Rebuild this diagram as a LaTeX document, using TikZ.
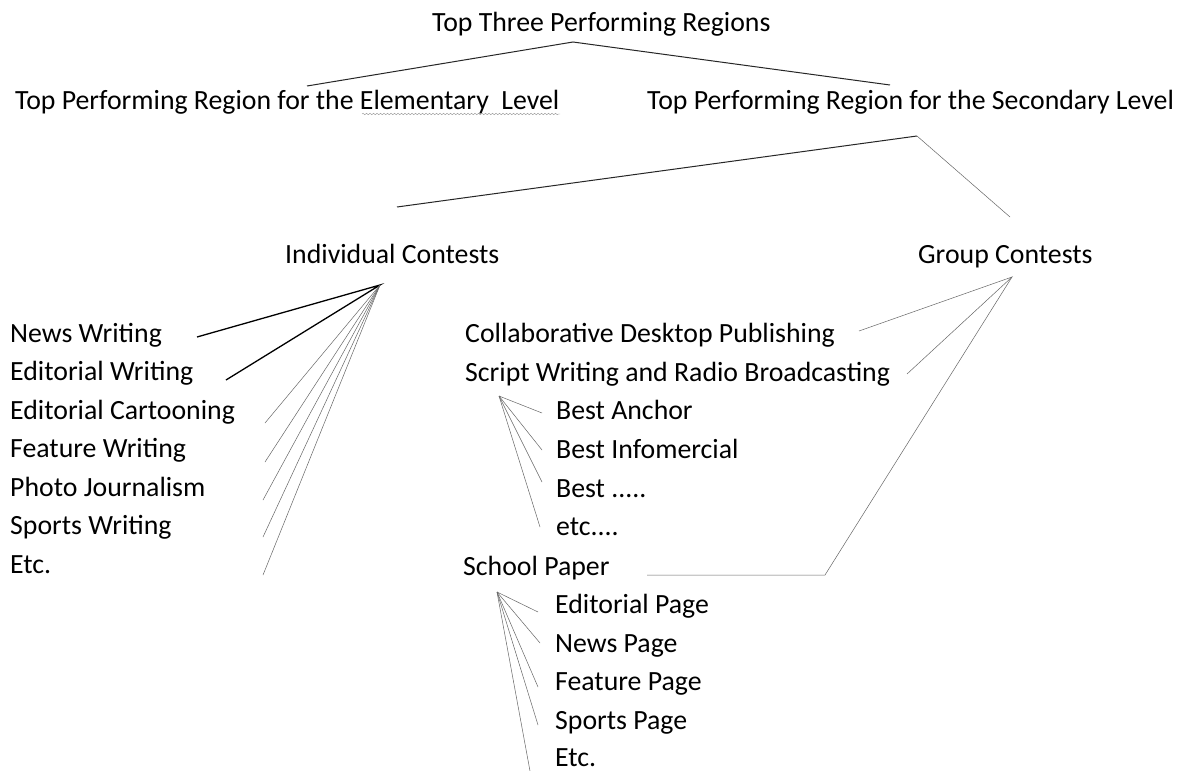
\documentclass[tikz,border=0pt]{standalone}
\usepackage{fontspec}
\setmainfont{Carlito}
\usepackage{tikz}
\usetikzlibrary{positioning, decorations.pathmorphing}
\tikzstyle{rotulo} = [anchor=base west, inner sep=0pt, font=\fontsize{27.8}{32}\selectfont]
\tikzstyle{rama} = [draw=black!85, line width=1pt]
\tikzstyle{ramafina} = [draw=black!60, line width=0.5pt]
\tikzstyle{gruesa} = [draw=black, line width=1.3pt]

\begin{document}
\begin{tikzpicture}[x=1pt, y=-1pt]
	\useasboundingbox[fill=white] (0,0) rectangle (1179,771);
	\node[rotulo] (tres) at (432,31) {Top Three Performing Regions};
	\node[rotulo] (elem) at (15,109) {Top Performing Region for the Elementary\ \ Level};
	\node[rotulo] (secu) at (647,109) {Top Performing Region for the Secondary Level};
	\node[rotulo] (indiv) at (285,263) {Individual Contests};
	\node[rotulo] (grupo) at (918,263) {Group Contests};
	\node[rotulo] (news) at (10,342) {News Writing};
	\node[rotulo] (edit) at (10,380.5) {Editorial Writing};
	\node[rotulo] (cart) at (10,419) {Editorial Cartooning};
	\node[rotulo] (feat) at (10,457.5) {Feature Writing};
	\node[rotulo] (foto) at (10,496) {Photo Journalism};
	\node[rotulo] (sport) at (10,534.5) {Sports Writing};
	\node[rotulo] (etc) at (10,573) {Etc.};
	\node[rotulo] (colab) at (465,342) {Collaborative Desktop Publishing};
	\node[rotulo] (script) at (465,381) {Script Writing and Radio Broadcasting};
	\node[rotulo] (anchor) at (556,419) {Best Anchor};
	\node[rotulo] (info) at (556,458) {Best Infomercial};
	\node[rotulo] (best) at (556,497) {Best .....};
	\node[rotulo] (betc) at (556,535) {etc....};
	\node[rotulo] (paper) at (463,575) {School Paper};
	\node[rotulo] (pedit) at (555,613) {Editorial Page};
	\node[rotulo] (pnews) at (555,652) {News Page};
	\node[rotulo] (pfeat) at (555,690) {Feature Page};
	\node[rotulo] (psport) at (555,729) {Sports Page};
	\node[rotulo] (petc) at (555,766) {Etc.};
	\draw[black!40, line width=0.4pt, decorate, decoration={snake, amplitude=0.8pt, segment length=3.5pt}] (362,114) -- (560,114);
	\coordinate (c-tres) at (573,42);
	\coordinate (c-elem) at (307,86);
	\coordinate (c-secu) at (890,85);
	\coordinate (c-sec) at (917,136);
	\coordinate (c-indiv) at (397,207);
	\coordinate (c-grupo) at (1010,217);
	\coordinate (h-indiv) at (380,285);
	\coordinate (h-grupo) at (1012,277);
	\coordinate (h-script) at (499,396);
	\coordinate (h-paper) at (497,592);
	\coordinate (e-news) at (197,337);
	\coordinate (e-edit) at (226,380);
	\coordinate (e-cart) at (265,423);
	\coordinate (e-feat) at (265,462);
	\coordinate (e-foto) at (263,500);
	\coordinate (e-sport) at (263,537);
	\coordinate (e-etc) at (263,575);
	\coordinate (e-colab) at (859,331);
	\coordinate (e-script) at (907,374);
	\coordinate (e-codo) at (825,575);
	\coordinate (e-paper) at (647,575);
	\draw[rama] (c-elem) -- (c-tres) -- (c-secu);
	\draw[rama] (c-indiv) -- (c-sec);
	\draw[ramafina] (c-sec) -- (c-grupo);
	\draw[gruesa] (e-news) -- (h-indiv) -- (e-edit);
	\foreach \e in {cart, feat, foto, sport, etc}
		\draw[ramafina] (h-indiv) -- (e-\e);
	\draw[ramafina] (e-colab) -- (h-grupo) -- (e-script);
	\draw[ramafina] (h-grupo) -- (e-codo) -- (e-paper);
	\foreach \p in {(542,413), (542,450), (542,482), (540,527)}
		\draw[ramafina] (h-script) -- \p;
	\foreach \p in {(538,612), (540,643), (538,687), (538,725), (530,771)}
		\draw[ramafina] (h-paper) -- \p;
\end{tikzpicture}
\end{document}
